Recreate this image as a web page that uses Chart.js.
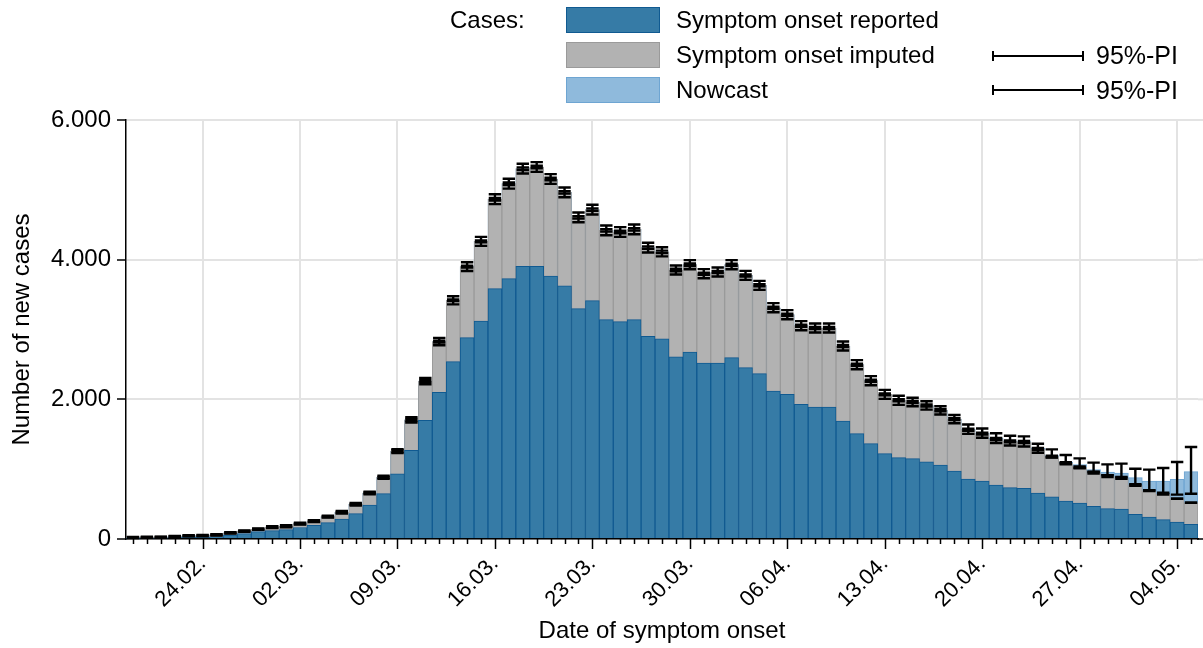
<!DOCTYPE html>
<html>
<head>
<meta charset="utf-8">
<title>Nowcast – new cases by date of symptom onset</title>
<script src="https://cdn.jsdelivr.net/npm/chart.js@4.4.0/dist/chart.umd.min.js"></script>
<style>
  html, body { margin: 0; padding: 0; background: #fff; }
  body { font-family: 'Liberation Sans', Arial, sans-serif; color: #000; }
  .wrap { position: relative; width: 1203px; height: 648px; overflow: hidden; }
  #chart { position: absolute; left: 0; top: 0; }

  /* legend above the plot */
  .legend { position: absolute; left: 0; top: 0; width: 1203px; height: 110px; font-size: 24px; }
  .legend .lbl { position: absolute; line-height: 28px; white-space: nowrap; }
  .legend .sw { position: absolute; left: 566px; width: 92px; height: 24px; border: 1px solid; }
  .legend .pi { position: absolute; left: 992px; width: 92px; height: 2px; background: #000; }
  .legend .pi::before, .legend .pi::after {
    content: ''; position: absolute; top: -4px; width: 2px; height: 10px; background: #000;
  }
  .legend .pi::before { left: 0; }
  .legend .pi::after { right: 0; }
  .legend .pil { font-size: 25px; }
</style>
</head>
<body>
<div class="wrap">
  <canvas id="chart" width="1203" height="648"></canvas>
  <div class="legend">
    <div class="lbl" style="left:450px; top:6px;">Cases:</div>

    <div class="sw" style="top:7px; background:#367ba6; border-color:#105a91;"></div>
    <div class="lbl" style="left:676px; top:6px;">Symptom onset reported</div>

    <div class="sw" style="top:42px; background:#b2b2b2; border-color:#9a9a9a;"></div>
    <div class="lbl" style="left:676px; top:41px;">Symptom onset imputed</div>
    <div class="pi" style="top:55px;"></div>
    <div class="lbl pil" style="left:1096px; top:41px;">95%-PI</div>

    <div class="sw" style="top:77px; background:#8fbadc; border-color:#6ea5d2;"></div>
    <div class="lbl" style="left:676px; top:76px;">Nowcast</div>
    <div class="pi" style="top:89px;"></div>
    <div class="lbl pil" style="left:1096px; top:76px;">95%-PI</div>
  </div>
</div>

<script>
/* ── Data: one entry per day of symptom onset ── */
const dates = [
  '19.02.','20.02.','21.02.','22.02.','23.02.','24.02.','25.02.','26.02.','27.02.','28.02.','29.02.',
  '01.03.','02.03.','03.03.','04.03.','05.03.','06.03.','07.03.','08.03.','09.03.','10.03.',
  '11.03.','12.03.','13.03.','14.03.','15.03.','16.03.','17.03.','18.03.','19.03.','20.03.',
  '21.03.','22.03.','23.03.','24.03.','25.03.','26.03.','27.03.','28.03.','29.03.','30.03.','31.03.',
  '01.04.','02.04.','03.04.','04.04.','05.04.','06.04.','07.04.','08.04.','09.04.','10.04.',
  '11.04.','12.04.','13.04.','14.04.','15.04.','16.04.','17.04.','18.04.','19.04.','20.04.',
  '21.04.','22.04.','23.04.','24.04.','25.04.','26.04.','27.04.','28.04.','29.04.','30.04.',
  '01.05.','02.05.','03.05.','04.05.','05.05.'
];

// weekly labelled ticks on the date axis
const tickDates = ['24.02.','02.03.','09.03.','16.03.','23.03.','30.03.','06.04.','13.04.','20.04.','27.04.','04.05.'];

// cases with reported symptom onset
const reported = [
  10, 12, 12, 20, 26, 26, 32, 55, 78, 105,
  120, 135, 165, 195, 234, 286, 363, 487, 649, 932,
  1270, 1699, 2100, 2539, 2883, 3121, 3585, 3728, 3904, 3904,
  3766, 3627, 3298, 3413, 3141, 3112, 3141, 2902, 2866, 2610,
  2678, 2520, 2520, 2597, 2453, 2367, 2119, 2071, 1928, 1890,
  1890, 1690, 1508, 1365, 1222, 1165, 1150, 1105, 1060, 974,
  859, 831, 773, 735, 725, 659, 604, 544, 515, 468,
  434, 430, 353, 315, 277, 243, 210
];

// reported + imputed symptom onset (top of the grey bar)
const withImputed = [
  20, 24, 25, 36, 46, 48, 58, 88, 112, 140,
  170, 183, 220, 255, 320, 382, 497, 659, 883, 1258,
  1706, 2262, 2826, 3418, 3900, 4262, 4866, 5088, 5303, 5327,
  5155, 4964, 4606, 4716, 4420, 4396, 4434, 4172, 4112, 3852,
  3928, 3799, 3823, 3928, 3775, 3632, 3312, 3212, 3055, 3021,
  3021, 2764, 2496, 2267, 2071, 1986, 1962, 1912, 1842, 1718,
  1566, 1508, 1432, 1398, 1389, 1289, 1180, 1085, 1025, 950,
  900, 869, 768, 692, 640, 578, 520
];
const imputedPiLow = [
  17, 21, 22, 33, 43, 45, 55, 85, 109, 137,
  164, 177, 214, 249, 314, 376, 491, 653, 877, 1246,
  1694, 2250, 2814, 3406, 3888, 4250, 4848, 5070, 5285, 5309,
  5137, 4946, 4588, 4698, 4402, 4378, 4416, 4154, 4094, 3834,
  3910, 3784, 3808, 3913, 3760, 3617, 3297, 3197, 3040, 3006,
  3006, 2749, 2481, 2252, 2056, 1971, 1947, 1897, 1827, 1703,
  1551, 1494, 1418, 1384, 1375, 1275, 1166, 1071, 1011, 936,
  886, 861, 761, 686, 635, 574, 517
];
const imputedPiHigh = [
  23, 27, 28, 39, 49, 51, 61, 91, 115, 143,
  176, 189, 226, 261, 326, 388, 503, 665, 889, 1270,
  1718, 2274, 2838, 3430, 3912, 4274, 4884, 5106, 5321, 5345,
  5173, 4982, 4624, 4734, 4438, 4414, 4452, 4190, 4130, 3870,
  3946, 3814, 3838, 3943, 3790, 3647, 3327, 3227, 3070, 3036,
  3036, 2779, 2511, 2282, 2086, 2001, 1977, 1927, 1857, 1733,
  1581, 1522, 1446, 1412, 1403, 1303, 1194, 1099, 1039, 964,
  914, 877, 775, 698, 645, 582, 523
];

// nowcast estimate with its prediction interval
const nowcast = [
  20, 24, 25, 36, 46, 48, 58, 88, 112, 140,
  170, 183, 220, 255, 320, 382, 497, 659, 883, 1258,
  1706, 2262, 2826, 3418, 3900, 4262, 4866, 5088, 5303, 5327,
  5155, 4964, 4606, 4716, 4420, 4396, 4434, 4172, 4112, 3852,
  3928, 3799, 3823, 3928, 3775, 3632, 3312, 3212, 3055, 3021,
  3021, 2764, 2496, 2267, 2071, 1986, 1962, 1912, 1842, 1718,
  1570, 1512, 1440, 1405, 1395, 1300, 1195, 1100, 1064, 993,
  959, 945, 878, 830, 830, 854, 964
];
const nowcastPiLow = [
  12, 16, 17, 28, 38, 38, 48, 78, 102, 130,
  156, 169, 206, 241, 306, 364, 479, 641, 861, 1230,
  1668, 2217, 2774, 3360, 3838, 4197, 4796, 5018, 5233, 5257,
  5085, 4894, 4536, 4646, 4350, 4326, 4364, 4102, 4047, 3787,
  3863, 3734, 3758, 3863, 3710, 3567, 3247, 3147, 2990, 2956,
  2956, 2699, 2431, 2202, 2006, 1921, 1902, 1852, 1782, 1658,
  1505, 1450, 1375, 1338, 1325, 1235, 1170, 1085, 1021, 960,
  915, 888, 783, 697, 663, 635, 649
];
const nowcastPiHigh = [
  28, 32, 33, 44, 54, 58, 68, 98, 122, 150,
  184, 197, 234, 269, 334, 400, 515, 677, 905, 1286,
  1744, 2307, 2878, 3476, 3962, 4327, 4936, 5158, 5373, 5397,
  5225, 5034, 4676, 4786, 4490, 4466, 4504, 4242, 4177, 3917,
  3993, 3864, 3888, 3993, 3840, 3697, 3377, 3277, 3120, 3086,
  3086, 2829, 2561, 2332, 2136, 2051, 2022, 1972, 1902, 1778,
  1640, 1582, 1515, 1478, 1470, 1365, 1284, 1203, 1155, 1093,
  1069, 1079, 1007, 993, 1017, 1102, 1317
];

const yMax = 6000;
const yStep = 2000;

Chart.defaults.font.family = "'Liberation Sans', Arial, sans-serif";
Chart.defaults.color = '#000';

// 6000 -> "6.000"
const thousands = v => String(v).replace(/\B(?=(\d{3})+(?!\d))/g, '.');
const isWeekTick = i => tickDates.includes(dates[i]);

/* ── Day ticks under the date axis, longer ones at the weekly labels.
      Also runs the baseline and horizontal grid out to the canvas edge. ── */
const dayTicks = {
  id: 'dayTicks',
  beforeDatasetsDraw(chart) {
    const { ctx, chartArea, width, scales: { y } } = chart;
    ctx.save();
    ctx.strokeStyle = '#e3e3e3';
    ctx.lineWidth = 2;
    for (let v = yStep; v <= yMax; v += yStep) {
      const py = y.getPixelForValue(v);
      ctx.beginPath();
      ctx.moveTo(chartArea.right, py);
      ctx.lineTo(width, py);
      ctx.stroke();
    }
    ctx.restore();
  },
  afterDraw(chart) {
    const { ctx, chartArea, width, scales: { x } } = chart;
    ctx.save();
    ctx.strokeStyle = '#000';
    ctx.lineWidth = 1.5;
    ctx.beginPath();
    ctx.moveTo(chartArea.right - 1, chartArea.bottom);
    ctx.lineTo(width, chartArea.bottom);
    ctx.stroke();
    dates.forEach((d, i) => {
      const px = Math.round(x.getPixelForValue(i)) + 0.5;
      const len = isWeekTick(i) ? 10 : 5;
      ctx.beginPath();
      ctx.moveTo(px, chartArea.bottom);
      ctx.lineTo(px, chartArea.bottom + len);
      ctx.stroke();
    });
    ctx.restore();
  }
};

/* ── 95% prediction intervals drawn as whiskers over the bars ── */
const piWhiskers = {
  id: 'piWhiskers',
  afterDatasetsDraw(chart) {
    const { ctx, scales: { x, y } } = chart;
    const cap = 6.2;
    ctx.save();
    ctx.strokeStyle = '#000';
    ctx.lineWidth = 2.4;
    const whisker = (i, lo, hi) => {
      const px = x.getPixelForValue(i);
      const yl = y.getPixelForValue(lo);
      const yh = y.getPixelForValue(hi);
      ctx.beginPath();
      ctx.moveTo(px, yl); ctx.lineTo(px, yh);
      ctx.moveTo(px - cap, yl); ctx.lineTo(px + cap, yl);
      ctx.moveTo(px - cap, yh); ctx.lineTo(px + cap, yh);
      ctx.stroke();
    };
    dates.forEach((d, i) => {
      whisker(i, nowcastPiLow[i], nowcastPiHigh[i]);
      whisker(i, imputedPiLow[i], imputedPiHigh[i]);
    });
    ctx.restore();
  }
};

new Chart(document.getElementById('chart'), {
  type: 'bar',
  data: {
    labels: dates,
    // drawn back to front: nowcast, imputed, reported
    datasets: [
      { label: 'Symptom onset reported', data: reported,
        backgroundColor: '#367ba6', borderColor: '#105a91', borderWidth: 1 },
      { label: 'Symptom onset imputed', data: withImputed,
        backgroundColor: '#b2b2b2', borderColor: '#9a9a9a', borderWidth: 1 },
      { label: 'Nowcast', data: nowcast,
        backgroundColor: '#8fbadc', borderColor: '#6ea5d2', borderWidth: 1 }
    ]
  },
  options: {
    responsive: false,
    animation: false,
    datasets: { bar: { grouped: false, categoryPercentage: 1, barPercentage: 1 } },
    layout: { padding: { top: 120, right: 5, bottom: 0, left: 0 } },
    plugins: { legend: { display: false }, tooltip: { enabled: false } },
    scales: {
      x: {
        offset: true,
        grid: {
          offset: false,
          drawTicks: false,
          lineWidth: 2,
          color: c => isWeekTick(c.index) ? '#e3e3e3' : 'rgba(0,0,0,0)'
        },
        border: { color: '#000', width: 1.5 },
        ticks: {
          autoSkip: false, minRotation: 45, maxRotation: 45, padding: 12,
          font: { size: 22 },
          callback: (v, i) => isWeekTick(i) ? dates[i] : ''
        },
        title: { display: true, text: 'Date of symptom onset', font: { size: 24 }, padding: { top: 0, bottom: 2 } },
        afterFit: s => { s.height = 109; s.paddingLeft = 0; s.paddingRight = 0; }
      },
      y: {
        min: 0, max: yMax,
        ticks: { stepSize: yStep, padding: 6, font: { size: 24 }, callback: v => thousands(v) },
        grid: { color: '#e3e3e3', lineWidth: 2, tickColor: '#000', tickLength: 9, tickWidth: 1.5 },
        border: { color: '#000', width: 1.5 },
        title: { display: true, text: 'Number of new cases', font: { size: 24 }, padding: { top: 8, bottom: 0 } },
        afterFit: s => { s.width = 126; s.paddingTop = 0; s.paddingBottom = 0; }
      }
    }
  },
  plugins: [piWhiskers, dayTicks]
});
</script>
</body>
</html>
